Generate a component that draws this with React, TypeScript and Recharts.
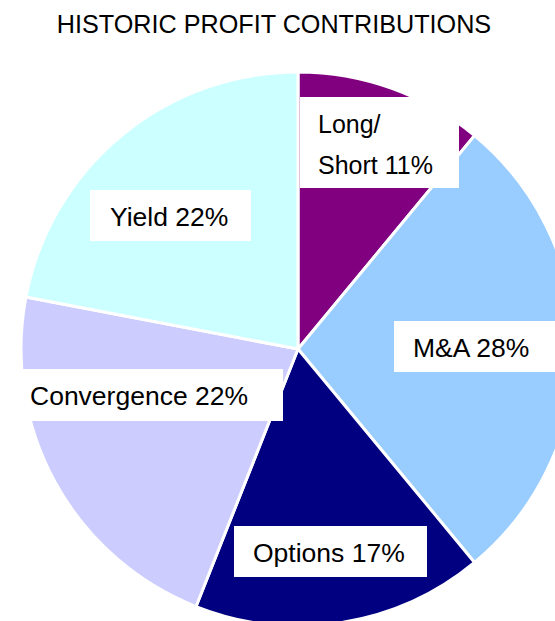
import { PieChart, Pie, Cell } from 'recharts';

const categories = ['Long/Short', 'M&A', 'Options', 'Convergence', 'Yield'];
const shares = [11, 28, 17, 22, 22];
const colors = ['#800080', '#99CCFF', '#000080', '#CCCCFF', '#CCFFFF'];

const CX = 298;
const CY = 349;
const FONT = '"Liberation Sans", Arial, sans-serif';

// label boxes, offsets from the pie centre
const labelBoxes = [
    { dx: 2, dy: -252, w: 159, h: 91, pad: 18 },
    { dx: 96, dy: -28, w: 180, h: 51, pad: 19 },
    { dx: -64, dy: 177, w: 193, h: 51, pad: 19 },
    { dx: -287, dy: 20, w: 272, h: 52, pad: 19 },
    { dx: -208, dy: -159, w: 161, h: 51, pad: 20 },
];

const data = categories.map((name, i) => ({ name, value: shares[i] }));

const renderLabel = (props: any) => {
    const { index, name, value } = props;
    const b = labelBoxes[index];
    const x = CX + b.dx;
    const y = CY + b.dy;
    const full = `${name} ${value}%`;
    const split = name.indexOf('/');
    const lines = split >= 0 ? [name.slice(0, split + 1), full.slice(split + 1)] : [full];
    return (
        <g key={`lbl-${index}`}>
            <rect x={x} y={y} width={b.w} height={b.h} fill="#ffffff" />
            {lines.map((t, i) => (
                <text
                    key={i}
                    x={x + b.pad}
                    y={y + 36 + i * 41}
                    fill="#000"
                    fontSize={lines.length > 1 ? 25 : 26.5}
                    fontFamily={FONT}
                    textAnchor="start"
                >
                    {t}
                </text>
            ))}
        </g>
    );
};

export default function App() {
    return (
        <div style={{ position: 'absolute', left: 0, top: 0, width: 555, height: 621, overflow: 'hidden', background: '#fff' }}>
            <PieChart width={555} height={621} margin={{ top: 0, right: 0, bottom: 0, left: 0 }}>
                <Pie
                    data={data}
                    dataKey="value"
                    nameKey="name"
                    cx={CX}
                    cy={CY}
                    outerRadius={277}
                    startAngle={90}
                    endAngle={-270}
                    stroke="#ffffff"
                    strokeWidth={3}
                    label={renderLabel}
                    labelLine={false}
                    isAnimationActive={false}
                >
                    {data.map((d, i) => (
                        <Cell key={d.name} fill={colors[i]} />
                    ))}
                </Pie>
            </PieChart>
            <div
                style={{
                    position: 'absolute',
                    left: 0,
                    top: 12,
                    width: 548,
                    textAlign: 'center',
                    fontFamily: FONT,
                    fontSize: 25.2,
                    lineHeight: 1,
                    color: '#000',
                }}
            >
                HISTORIC PROFIT CONTRIBUTIONS
            </div>
        </div>
    );
}
